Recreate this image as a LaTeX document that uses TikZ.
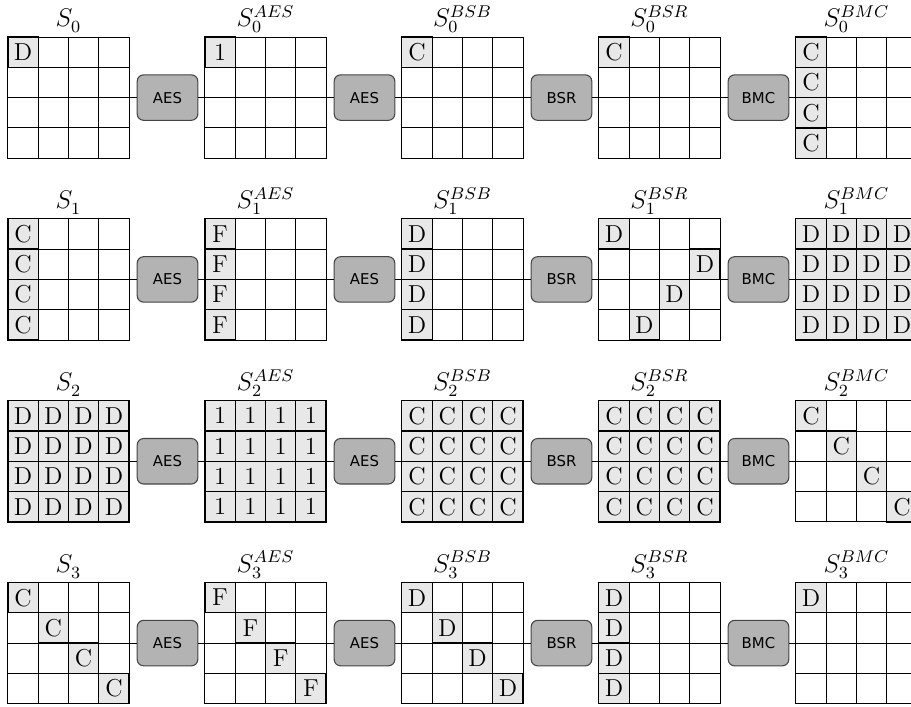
\documentclass[tikz,border=0pt]{standalone}
\usepackage{fontspec}
\setsansfont{DejaVu Sans}
\usepackage{xcolor}
\usepackage{tikz}
\usetikzlibrary{positioning}
\definecolor{opbg}{HTML}{B3B3B3}
\definecolor{opline}{HTML}{444444}
\definecolor{cellbg}{HTML}{E8E8E8}
\tikzset{
    state/.style={rectangle, draw=black, line width=0.4pt, minimum size=2cm,
                  inner sep=0pt, outer sep=0pt},
    cell/.style={rectangle, draw=black, line width=0.6pt, fill=cellbg,
                 minimum size=0.5cm, inner sep=0pt,
                 font=\fontsize{11.5}{14}\selectfont},
    opbox/.style={rectangle, rounded corners=3pt, draw=opline, line width=0.5pt,
                  fill=opbg, minimum width=1cm, minimum height=0.75cm,
                  inner sep=2pt, font=\sffamily\scriptsize},
    lbl/.style={font=\large, anchor=base},
    link/.style={line width=0.4pt, color=black},
}
% shaded cells of one grid: grid, letter, list of row/col
\newcommand{\cells}[3]{%
  \foreach \r/\c in {#3}
    \node[cell] at ([xshift=\c*0.5cm+0.25cm, yshift=-\r*0.5cm-0.25cm]#1.north west) {#2};
}
\newcommand{\fullcells}[2]{%
  \foreach \r in {0,...,3}
    \foreach \c in {0,...,3}
      \node[cell] at ([xshift=\c*0.5cm+0.25cm, yshift=-\r*0.5cm-0.25cm]#1.north west) {#2};
}
\begin{document}
\begin{tikzpicture}

  \useasboundingbox (-0.13,0.61) rectangle (14.9,-11.05);
  \clip (-0.13,0.61) rectangle (14.9,-11.05);

  % state grids and operations, one row per round
  \foreach \i in {0,...,3} {
    \foreach \j/\lab in {0/{}, 1/{AES}, 2/{BSB}, 3/{BSR}, 4/{BMC}} {
      \node[state] (g\i\j) at ({3.25*\j+1}, {-3*\i-1}) {};
      \foreach \k in {1,2,3} {
        \draw (g\i\j.north west) ++(\k*0.5,0) -- ++(0,-2);
        \draw (g\i\j.north west) ++(0,-\k*0.5) -- ++(2,0);
      }
      \node[lbl] at ([yshift=0.17cm]g\i\j.north) {$S_{\i}^{\lab}$};
    }
    \foreach \j/\nxt/\op in {0/1/AES, 1/2/AES, 2/3/BSR, 3/4/BMC} {
      \node[opbox, right=0.125cm of g\i\j] (op\i\j) {\op};
      \draw[link] (g\i\j) -- (op\i\j);
      \draw[link] (op\i\j) -- (g\i\nxt);
    }
  }

  % row 0
  \cells{g00}{D}{0/0}
  \cells{g01}{1}{0/0}
  \cells{g02}{C}{0/0}
  \cells{g03}{C}{0/0}
  \cells{g04}{C}{0/0, 1/0, 2/0, 3/0}

  % row 1
  \cells{g10}{C}{0/0, 1/0, 2/0, 3/0}
  \cells{g11}{F}{0/0, 1/0, 2/0, 3/0}
  \cells{g12}{D}{0/0, 1/0, 2/0, 3/0}
  \cells{g13}{D}{0/0, 1/3, 2/2, 3/1}
  \fullcells{g14}{D}

  % row 2
  \fullcells{g20}{D}
  \fullcells{g21}{1}
  \fullcells{g22}{C}
  \fullcells{g23}{C}
  \cells{g24}{C}{0/0, 1/1, 2/2, 3/3}

  % row 3
  \cells{g30}{C}{0/0, 1/1, 2/2, 3/3}
  \cells{g31}{F}{0/0, 1/1, 2/2, 3/3}
  \cells{g32}{D}{0/0, 1/1, 2/2, 3/3}
  \cells{g33}{D}{0/0, 1/0, 2/0, 3/0}
  \cells{g34}{D}{0/0}

\end{tikzpicture}
\end{document}
